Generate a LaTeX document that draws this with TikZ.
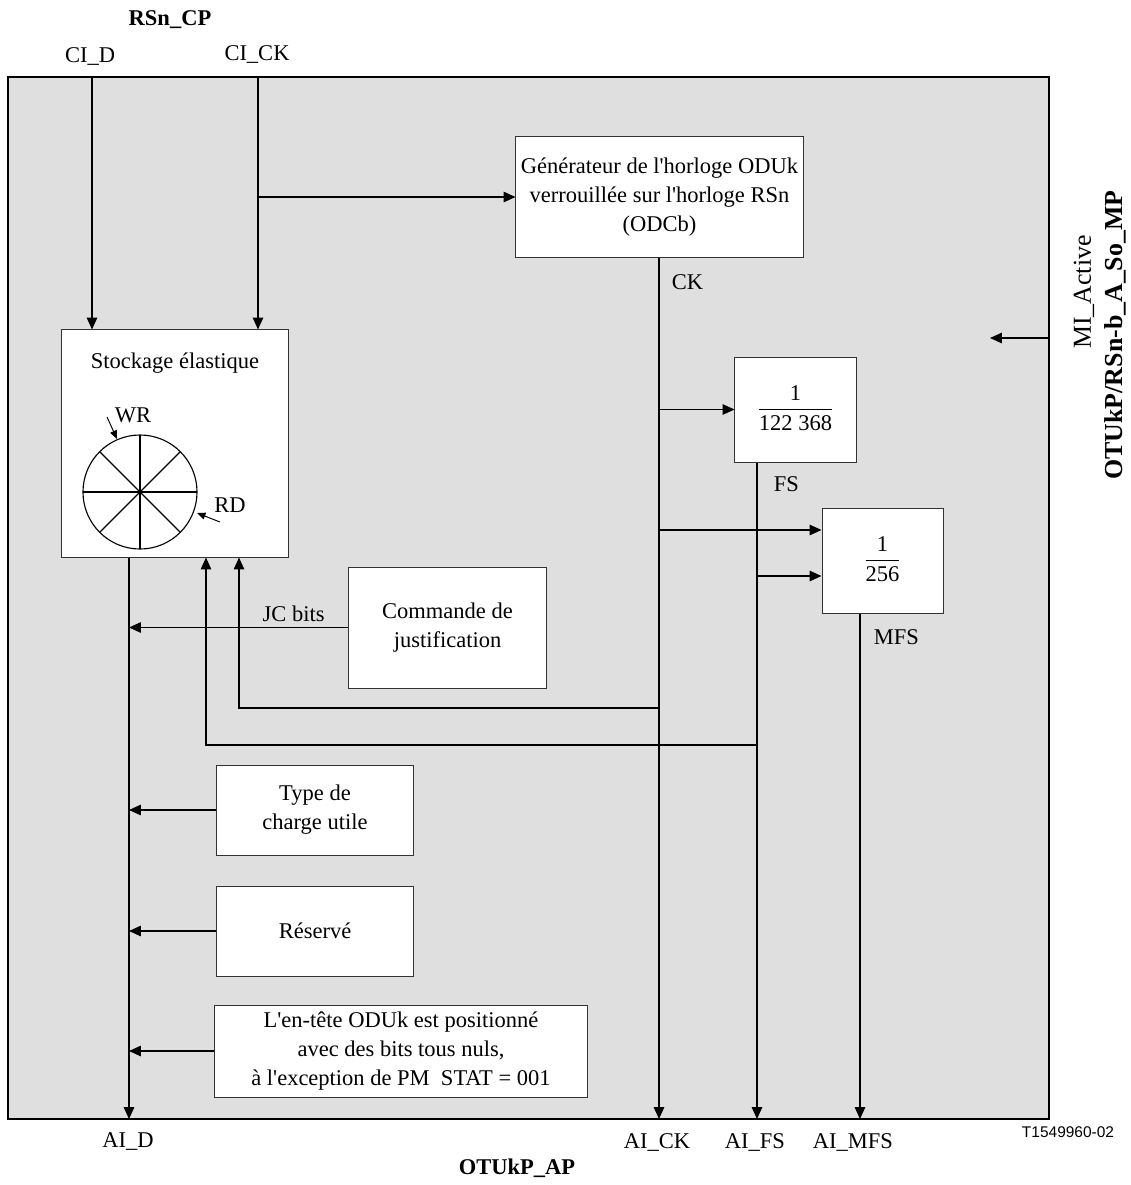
\documentclass[tikz,border=0pt]{standalone}
\usepackage{fontspec}
\setmainfont{Liberation Serif}[Ligatures=TeXOff]
\newfontfamily\refsans{Liberation Sans}
\usetikzlibrary{arrows.meta}
\setlength\arrayrulewidth{1pt}
\definecolor{panel}{HTML}{DFDFDF}

\tikzset{
  box/.style={draw=black!80, fill=white, line width=0.7pt, align=center, inner sep=0pt},
  wire/.style={line width=0.9pt},
  arr/.style={wire, -{Triangle[length=8.5pt,width=7.5pt]}},
  sarr/.style={line width=0.7pt, -{Triangle[length=6pt,width=5pt]}},
}

\begin{document}
\begin{tikzpicture}[x=0.025cm, y=-0.025cm, font=\fontsize{16}{20.5}\selectfont]
\useasboundingbox (0,0) rectangle (1131,1185);
\draw[fill=panel, line width=0.8pt] (8,77) rectangle (1049,1119);

\coordinate (cid) at (92,77);
\coordinate (cick) at (258,77);
\coordinate (aid) at (129,1119);
\coordinate (aick) at (659,1119);
\coordinate (aifs) at (757,1119);
\coordinate (aimfs) at (860,1119);

\node[box, minimum width=5.65cm, minimum height=5.675cm] (store) at (175,443.5) {};
\node (storetxt) at (175,363) {Stockage élastique};
\node[box, minimum width=7.175cm, minimum height=3cm] (gen) at (659.5,197)
  {Générateur de l'horloge ODUk\\verrouillée sur l'horloge RSn\\(ODCb)};
\node[box, minimum width=3.025cm, minimum height=2.625cm] (fdiv) at (795.5,409.5)
  {\begin{tabular}{@{}c@{}}1\\\hline 122 368\end{tabular}};
\node[box, minimum width=3.025cm, minimum height=2.625cm] (mdiv) at (882.5,560.5)
  {\begin{tabular}{@{}c@{}}1\\\hline 256\end{tabular}};
\node[box, minimum width=4.925cm, minimum height=3.025cm] (jc) at (447.5,627.5)
  {Commande de\\justification};
\node[box, minimum width=4.9cm, minimum height=2.25cm] (pt) at (315,810)
  {Type de\\charge utile};
\node[box, minimum width=4.9cm, minimum height=2.25cm] (res) at (315,931) {Réservé};
\node[box, minimum width=9.3cm, minimum height=2.3cm] (oh) at (401,1051)
  {L'en-tête ODUk est positionné\\avec des bits tous nuls,\\à l'exception de PM\ \ STAT = 001};

\draw[line width=0.8pt] (140,492) circle (1.425cm);
\foreach \a in {0,45,90,135}
  \draw[line width=0.8pt] (140,492) ++(\a:1.425cm) -- ++(\a+180:2.85cm);
\node (wr) at (133,415) {WR};
\node (rd) at (230,505) {RD};
\draw[sarr] (107,417) -- (117,439);
\draw[sarr] (220,522) -- (197,513);

\draw[arr] (cid) -- (store.north -| cid);
\draw[arr] (cick) -- (store.north -| cick);
\draw[arr] (gen.west -| cick) -- (gen.west);
\draw[arr] (gen.south -| aick) -- (aick);
\draw[arr] (fdiv.west -| aick) -- (fdiv.west);
\coordinate (ckm) at (659,530);
\draw[arr] (ckm) -- (mdiv.west |- ckm);
\draw[arr] (fdiv.south -| aifs) -- (aifs);
\coordinate (fsm) at (757,576);
\draw[arr] (fsm) -- (mdiv.west |- fsm);
\draw[arr] (mdiv.south -| aimfs) -- (aimfs);
\draw[arr] (store.south -| aid) -- (aid);
\draw[arr] (jc.west) -- (jc.west -| aid) node[pos=0.25, above] {JC bits};
\draw[arr] (pt.west) -- (pt.west -| aid);
\draw[arr] (res.west) -- (res.west -| aid);
\draw[arr] (oh.west) -- (oh.west -| aid);
\coordinate (ckret) at (239,708);
\coordinate (fsret) at (206,745);
\draw[arr] (ckret -| aick) -- (ckret) -- (store.south -| ckret);
\draw[arr] (fsret -| aifs) -- (fsret) -- (store.south -| fsret);
\coordinate (mi) at (1049,338);
\coordinate (miend) at (990,338);
\draw[arr] (mi) -- (miend);

\node[anchor=west] (ck) at (667,282) {CK};
\node[anchor=west] (fs) at (769,484) {FS};
\node[anchor=west] (mfs) at (869,637) {MFS};

\node[font=\fontsize{16}{20}\selectfont\bfseries] (rsncp) at (170,20) {RSn\_CP};
\node (cidl) at (90,56) {CI\_D};
\node (cickl) at (257,54) {CI\_CK};
\node (aidl) at (128,1142) {AI\_D};
\node (aickl) at (657,1142) {AI\_CK};
\node (aifsl) at (755,1142) {AI\_FS};
\node (aimfsl) at (853,1142) {AI\_MFS};
\node[font=\fontsize{16}{20}\selectfont\bfseries] (ap) at (517,1168) {OTUkP\_AP};
\node[font=\refsans\fontsize{11}{13}\selectfont] (fig) at (1068,1132) {T1549960-02};
\node[rotate=90, font=\fontsize{18.4}{22}\selectfont] (mil) at (1084,292) {MI\_Active};
\node[rotate=90, font=\fontsize{18.4}{22}\selectfont\bfseries] (mp) at (1115,335) {OTUkP/RSn-b\_A\_So\_MP};
\end{tikzpicture}
\end{document}
